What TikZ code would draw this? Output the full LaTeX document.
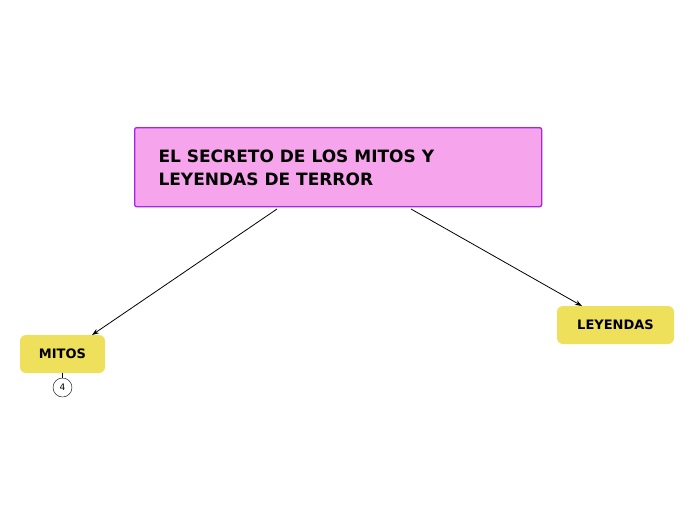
\documentclass[tikz,border=0pt]{standalone}
\usepackage{fontspec}
\setmainfont{DejaVu Sans}
\usetikzlibrary{arrows.meta}
\definecolor{pinkf}{HTML}{F6A4EC}
\definecolor{purp}{HTML}{A526E8}
\definecolor{yel}{HTML}{EEE05A}
\tikzset{
 leaf/.style={fill=yel,rounded corners=6pt,minimum height=38pt,font=\bfseries\fontsize{13}{15}\selectfont,inner sep=0pt},
 conn/.style={-{Stealth[length=7pt,width=5pt]},thick}
}
\begin{document}
\begin{tikzpicture}[x=1pt,y=-1pt]
\useasboundingbox (0,0) rectangle (696,520);
\node[draw=purp,line width=1.3pt,fill=pinkf,rounded corners=2pt,minimum width=407pt,minimum height=79pt,anchor=north west] (main) at (134,127) {};
\node[anchor=west,align=left,font=\bfseries\fontsize{17}{23}\selectfont] (t) at (155,168) {EL SECRETO DE LOS MITOS Y\\LEYENDAS DE TERROR};
\node[leaf,minimum width=85pt] (mitos) at (62.5,354) {MITOS};
\node[leaf,minimum width=117pt] (ley) at (615.5,325) {LEYENDAS};
\node[draw,circle,minimum size=19pt,inner sep=0pt,font=\fontsize{9}{9}\selectfont] (c) at (62.5,387.5) {4};
\draw (mitos.south) -- (c.north);
\coordinate (a1) at (277,209);
\coordinate (a2) at (411,209);
\draw[conn] (a1) -- (92,335);
\draw[conn] (a2) -- (582,306);
\end{tikzpicture}
\end{document}
